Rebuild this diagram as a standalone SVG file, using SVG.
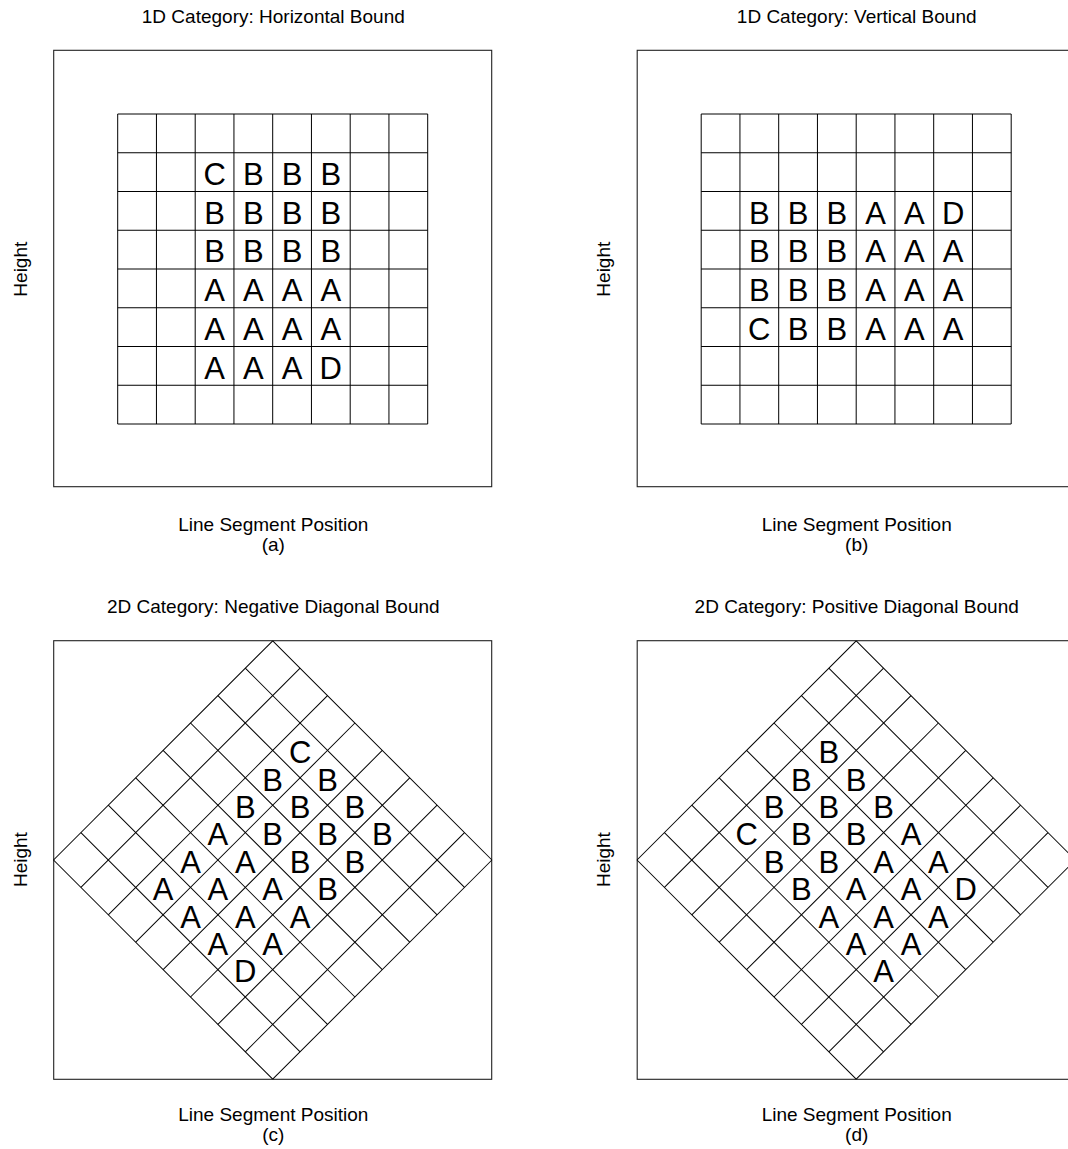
<svg xmlns="http://www.w3.org/2000/svg" xmlns:xlink="http://www.w3.org/1999/xlink" width="1068" height="1149" viewBox="0 0 1068 1149">
<style>
text{font-family:"Liberation Sans",Arial,sans-serif;fill:#000}
.t{font-size:19px;text-anchor:middle}
.l{font-size:31px;text-anchor:middle}
.box{fill:none;stroke:#222;stroke-width:1.1}
.g line{stroke:#000;stroke-width:1}
</style>
<defs>
<g id="grid" class="g">
<line x1="-155" y1="-155" x2="-155" y2="155"/>
<line x1="-116.25" y1="-155" x2="-116.25" y2="155"/>
<line x1="-77.5" y1="-155" x2="-77.5" y2="155"/>
<line x1="-38.75" y1="-155" x2="-38.75" y2="155"/>
<line x1="0" y1="-155" x2="0" y2="155"/>
<line x1="38.75" y1="-155" x2="38.75" y2="155"/>
<line x1="77.5" y1="-155" x2="77.5" y2="155"/>
<line x1="116.25" y1="-155" x2="116.25" y2="155"/>
<line x1="155" y1="-155" x2="155" y2="155"/>
<line y1="-155" x1="-155" y2="-155" x2="155"/>
<line y1="-116.25" x1="-155" y2="-116.25" x2="155"/>
<line y1="-77.5" x1="-155" y2="-77.5" x2="155"/>
<line y1="-38.75" x1="-155" y2="-38.75" x2="155"/>
<line y1="0" x1="-155" y2="0" x2="155"/>
<line y1="38.75" x1="-155" y2="38.75" x2="155"/>
<line y1="77.5" x1="-155" y2="77.5" x2="155"/>
<line y1="116.25" x1="-155" y2="116.25" x2="155"/>
<line y1="155" x1="-155" y2="155" x2="155"/>
</g>
</defs>
<rect width="1068" height="1149" fill="#fff"/>

<g id="panel-a">
<text class="t" x="273.3" y="23">1D Category: Horizontal Bound</text>
<rect class="box" x="53.7" y="50.3" width="438" height="436.4"/>
<use xlink:href="#grid" href="#grid" transform="translate(272.7,269)"/>
<g transform="translate(0,0.4)">
<text class="l" x="214.6" y="184.6">C</text><text class="l" x="253.3" y="184.6">B</text><text class="l" x="292.1" y="184.6">B</text><text class="l" x="330.8" y="184.6">B</text>
<text class="l" x="214.6" y="223.4">B</text><text class="l" x="253.3" y="223.4">B</text><text class="l" x="292.1" y="223.4">B</text><text class="l" x="330.8" y="223.4">B</text>
<text class="l" x="214.6" y="262.1">B</text><text class="l" x="253.3" y="262.1">B</text><text class="l" x="292.1" y="262.1">B</text><text class="l" x="330.8" y="262.1">B</text>
<text class="l" x="214.6" y="300.9">A</text><text class="l" x="253.3" y="300.9">A</text><text class="l" x="292.1" y="300.9">A</text><text class="l" x="330.8" y="300.9">A</text>
<text class="l" x="214.6" y="339.6">A</text><text class="l" x="253.3" y="339.6">A</text><text class="l" x="292.1" y="339.6">A</text><text class="l" x="330.8" y="339.6">A</text>
<text class="l" x="214.6" y="378.4">A</text><text class="l" x="253.3" y="378.4">A</text><text class="l" x="292.1" y="378.4">A</text><text class="l" x="330.8" y="378.4">D</text>
</g>
<text class="t" transform="translate(26.5,269.2) rotate(-90)">Height</text>
<text class="t" x="273.3" y="530.5">Line Segment Position</text>
<text class="t" x="273.3" y="550.5">(a)</text>
</g>

<g id="panel-b">
<text class="t" x="856.7" y="23">1D Category: Vertical Bound</text>
<rect class="box" x="637.2" y="50.3" width="438" height="436.4"/>
<use xlink:href="#grid" href="#grid" transform="translate(856.2,269)"/>
<g transform="translate(0,0.4)">
<text class="l" x="759.3" y="223.4">B</text><text class="l" x="798.1" y="223.4">B</text><text class="l" x="836.8" y="223.4">B</text><text class="l" x="875.6" y="223.4">A</text><text class="l" x="914.3" y="223.4">A</text><text class="l" x="953.1" y="223.4">D</text>
<text class="l" x="759.3" y="262.1">B</text><text class="l" x="798.1" y="262.1">B</text><text class="l" x="836.8" y="262.1">B</text><text class="l" x="875.6" y="262.1">A</text><text class="l" x="914.3" y="262.1">A</text><text class="l" x="953.1" y="262.1">A</text>
<text class="l" x="759.3" y="300.9">B</text><text class="l" x="798.1" y="300.9">B</text><text class="l" x="836.8" y="300.9">B</text><text class="l" x="875.6" y="300.9">A</text><text class="l" x="914.3" y="300.9">A</text><text class="l" x="953.1" y="300.9">A</text>
<text class="l" x="759.3" y="339.6">C</text><text class="l" x="798.1" y="339.6">B</text><text class="l" x="836.8" y="339.6">B</text><text class="l" x="875.6" y="339.6">A</text><text class="l" x="914.3" y="339.6">A</text><text class="l" x="953.1" y="339.6">A</text>
</g>
<text class="t" transform="translate(610,269.2) rotate(-90)">Height</text>
<text class="t" x="856.7" y="530.5">Line Segment Position</text>
<text class="t" x="856.7" y="550.5">(b)</text>
</g>

<g id="panel-c">
<text class="t" x="273.3" y="613.4">2D Category: Negative Diagonal Bound</text>
<rect class="box" x="53.7" y="640.7" width="438" height="438.6"/>
<use xlink:href="#grid" href="#grid" transform="translate(272.7,860) rotate(45)"/>
<g transform="translate(0,0.4)">
<text class="l" x="300.1" y="762.9">C</text><text class="l" x="327.5" y="790.3">B</text><text class="l" x="354.9" y="817.7">B</text><text class="l" x="382.3" y="845.1">B</text>
<text class="l" x="272.7" y="790.3">B</text><text class="l" x="300.1" y="817.7">B</text><text class="l" x="327.5" y="845.1">B</text><text class="l" x="354.9" y="872.5">B</text>
<text class="l" x="245.3" y="817.7">B</text><text class="l" x="272.7" y="845.1">B</text><text class="l" x="300.1" y="872.5">B</text><text class="l" x="327.5" y="899.9">B</text>
<text class="l" x="217.9" y="845.1">A</text><text class="l" x="245.3" y="872.5">A</text><text class="l" x="272.7" y="899.9">A</text><text class="l" x="300.1" y="927.3">A</text>
<text class="l" x="190.5" y="872.5">A</text><text class="l" x="217.9" y="899.9">A</text><text class="l" x="245.3" y="927.3">A</text><text class="l" x="272.7" y="954.7">A</text>
<text class="l" x="163.1" y="899.9">A</text><text class="l" x="190.5" y="927.3">A</text><text class="l" x="217.9" y="954.7">A</text><text class="l" x="245.3" y="982.1">D</text>
</g>
<text class="t" transform="translate(26.5,859.6) rotate(-90)">Height</text>
<text class="t" x="273.3" y="1120.5">Line Segment Position</text>
<text class="t" x="273.3" y="1140.5">(c)</text>
</g>

<g id="panel-d">
<text class="t" x="856.7" y="613.4">2D Category: Positive Diagonal Bound</text>
<rect class="box" x="637.2" y="640.7" width="438" height="438.6"/>
<use xlink:href="#grid" href="#grid" transform="translate(856.2,860) rotate(45)"/>
<g transform="translate(0,0.4)">
<text class="l" x="828.8" y="762.9">B</text><text class="l" x="856.2" y="790.3">B</text><text class="l" x="883.6" y="817.7">B</text><text class="l" x="911.0" y="845.1">A</text><text class="l" x="938.4" y="872.5">A</text><text class="l" x="965.8" y="899.9">D</text>
<text class="l" x="801.4" y="790.3">B</text><text class="l" x="828.8" y="817.7">B</text><text class="l" x="856.2" y="845.1">B</text><text class="l" x="883.6" y="872.5">A</text><text class="l" x="911.0" y="899.9">A</text><text class="l" x="938.4" y="927.3">A</text>
<text class="l" x="774.0" y="817.7">B</text><text class="l" x="801.4" y="845.1">B</text><text class="l" x="828.8" y="872.5">B</text><text class="l" x="856.2" y="899.9">A</text><text class="l" x="883.6" y="927.3">A</text><text class="l" x="911.0" y="954.7">A</text>
<text class="l" x="746.6" y="845.1">C</text><text class="l" x="774.0" y="872.5">B</text><text class="l" x="801.4" y="899.9">B</text><text class="l" x="828.8" y="927.3">A</text><text class="l" x="856.2" y="954.7">A</text><text class="l" x="883.6" y="982.1">A</text>
</g>
<text class="t" transform="translate(610,859.6) rotate(-90)">Height</text>
<text class="t" x="856.7" y="1120.5">Line Segment Position</text>
<text class="t" x="856.7" y="1140.5">(d)</text>
</g>
</svg>
